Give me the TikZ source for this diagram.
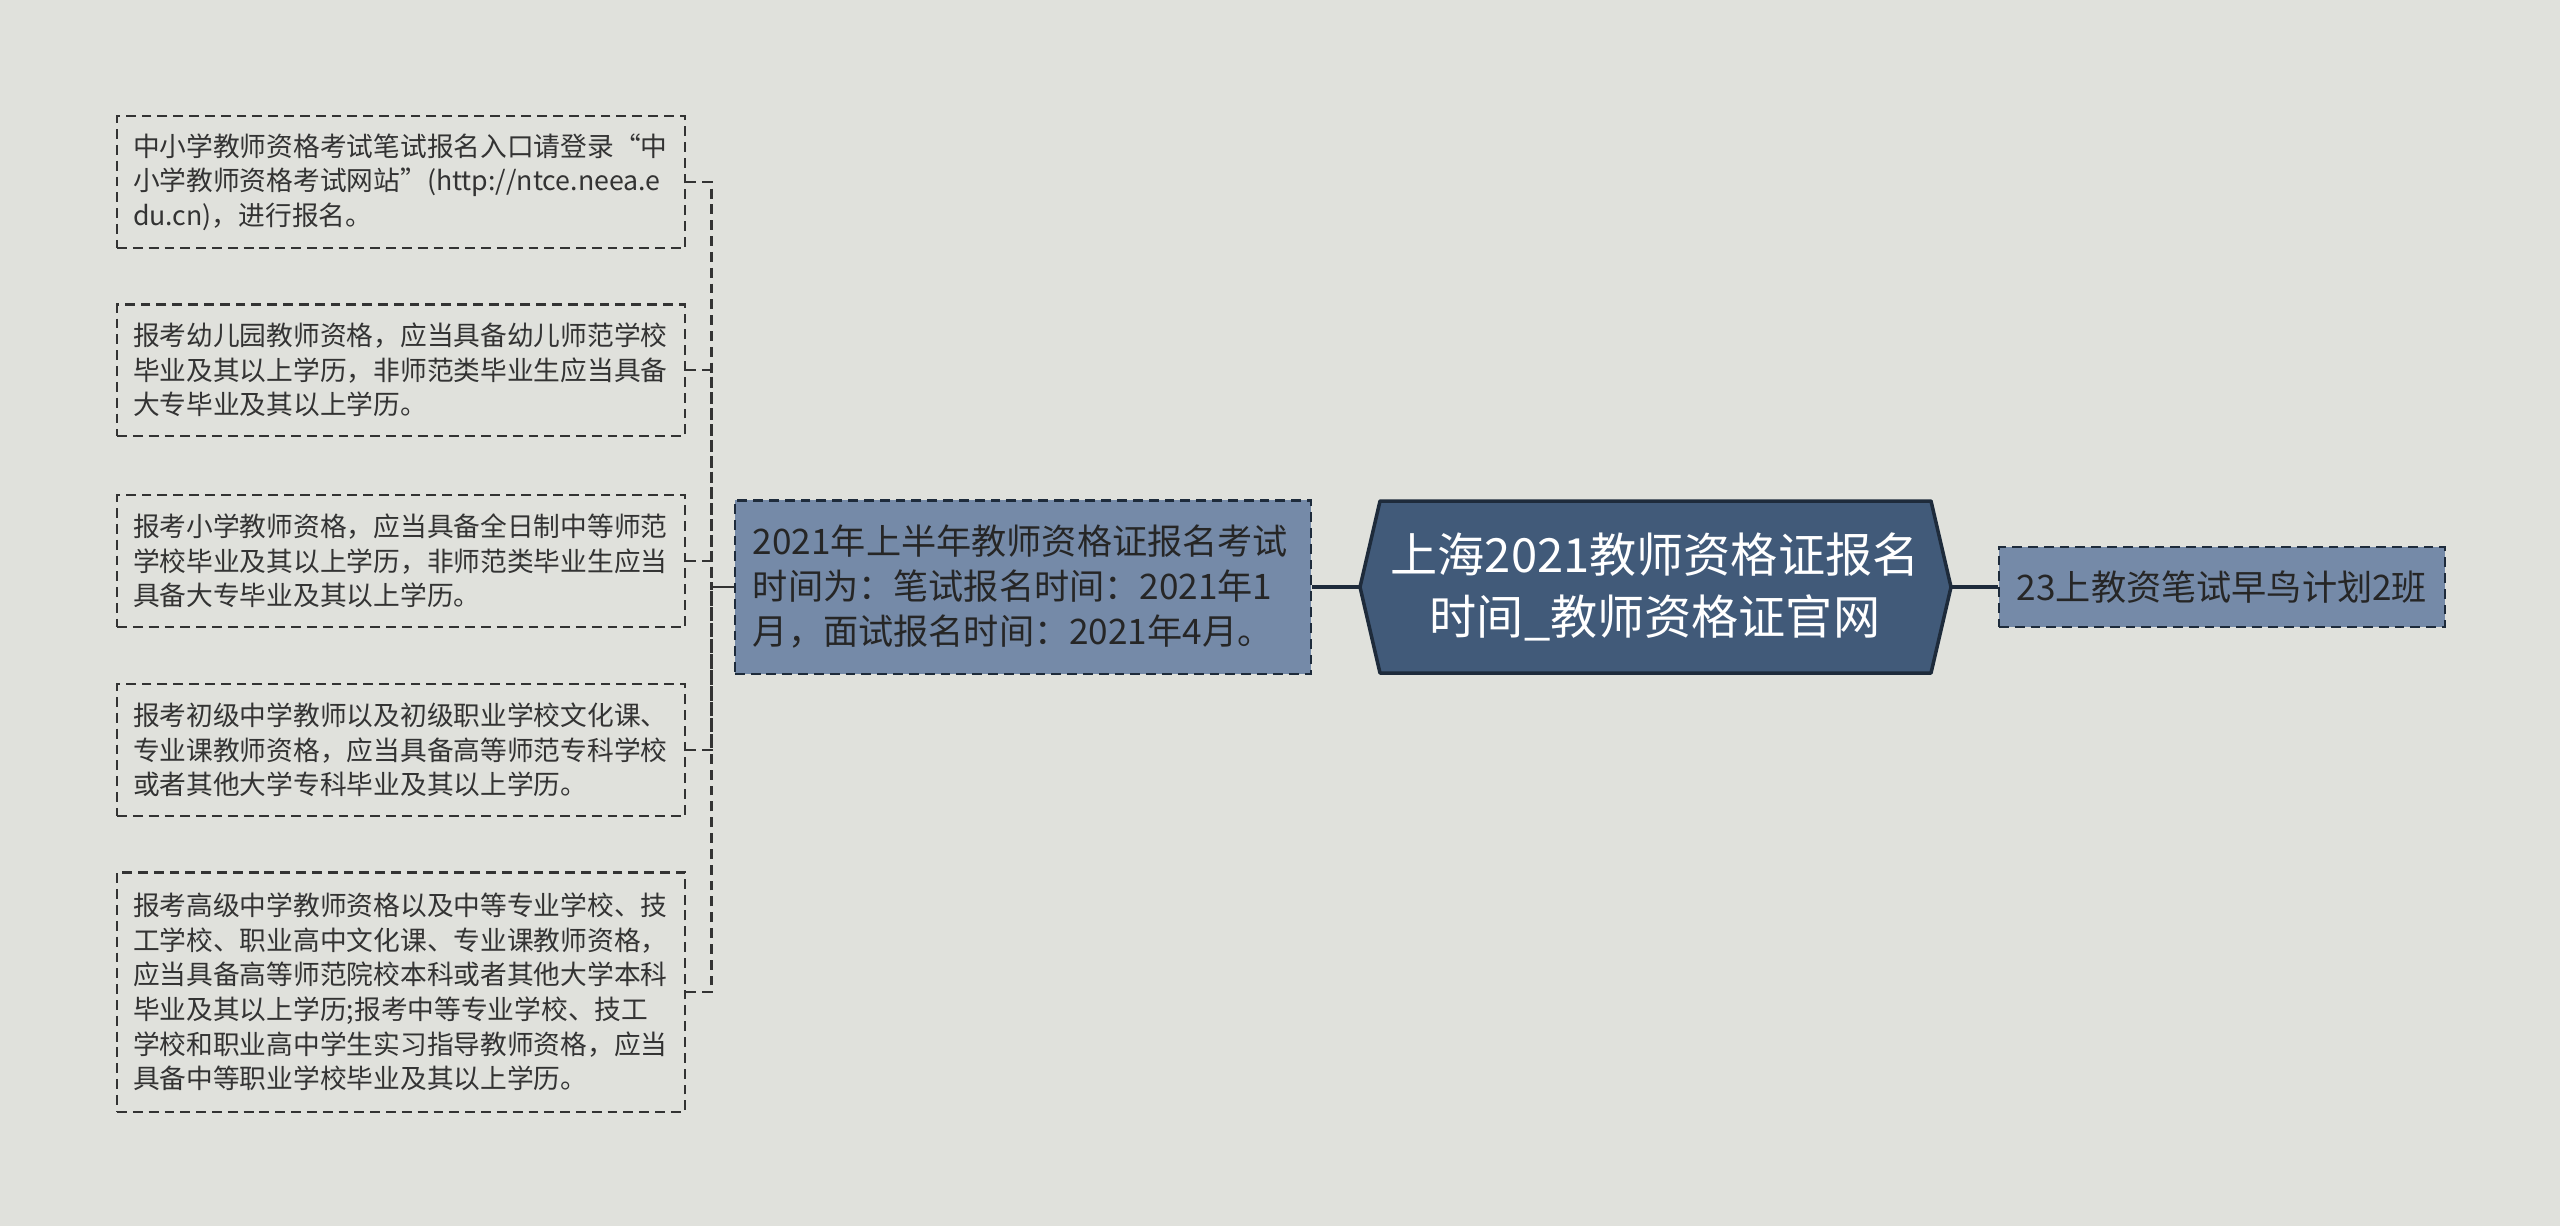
\documentclass[tikz,border=0pt]{standalone}
\usepackage{fontspec}
\setmainfont{Noto Sans CJK SC}
\definecolor{bgcol}{HTML}{E0E1DC}
\definecolor{slate}{HTML}{758AA8}
\definecolor{rootcol}{HTML}{415A79}
\definecolor{inkcol}{HTML}{1E2B3B}
\definecolor{txtcol}{HTML}{333333}

\begin{document}
\begin{tikzpicture}[x=0.01cm, y=-0.01cm,
  leaf/.style={draw=txtcol, line width=0.6pt, dash pattern=on 2.8pt off 1.7pt,
    anchor=west, text width=5.36cm, inner xsep=0.16cm, align=left,
    text=txtcol, font=\fontsize{7.6}{9.85}\selectfont},
  midbox/.style={draw=inkcol, fill=slate, line width=0.6pt, dash pattern=on 2.8pt off 1.7pt,
    text width=5.4cm, inner xsep=0.18cm, minimum height=1.73cm, align=left,
    text=black!85, font=\fontsize{10}{12.8}\selectfont},
  twig/.style={draw=txtcol, line width=0.6pt, dash pattern=on 2.8pt off 1.7pt},
  trunk/.style={draw=inkcol, line width=1.2pt}]

\fill[bgcol] (0,0) rectangle (2560,1226);
\useasboundingbox (0,0) rectangle (2560,1226);

% leaves
\node[leaf, minimum height=1.32cm] (leaf1) at (116,182)
  {中小学教师资格考试笔试报名入口请登录“中\\小学教师资格考试网站”(http://ntce.neea.e\\du.cn)，进行报名。};
\node[leaf, minimum height=1.31cm] (leaf2) at (116,370)
  {报考幼儿园教师资格，应当具备幼儿师范学校\\毕业及其以上学历，非师范类毕业生应当具备\\大专毕业及其以上学历。};
\node[leaf, minimum height=1.32cm] (leaf3) at (116,561)
  {报考小学教师资格，应当具备全日制中等师范\\学校毕业及其以上学历，非师范类毕业生应当\\具备大专毕业及其以上学历。};
\node[leaf, minimum height=1.32cm] (leaf4) at (116,750)
  {报考初级中学教师以及初级职业学校文化课、\\专业课教师资格，应当具备高等师范专科学校\\或者其他大学专科毕业及其以上学历。};
\node[leaf, minimum height=2.39cm] (leaf5) at (116,992)
  {报考高级中学教师资格以及中等专业学校、技\\工学校、职业高中文化课、专业课教师资格，\\应当具备高等师范院校本科或者其他大学本科\\毕业及其以上学历;报考中等专业学校、技工\\学校和职业高中学生实习指导教师资格，应当\\具备中等职业学校毕业及其以上学历。};

% middle
\node[midbox] (mid) at (1023,587)
  {2021年上半年教师资格证报名考试\\时间为：笔试报名时间：2021年1\\月，面试报名时间：2021年4月。};

% root
\filldraw[fill=rootcol, draw=inkcol, line width=1pt, line join=round]
  (1360,587) -- (1380,501) -- (1931,501) -- (1951,587) -- (1931,673) -- (1380,673) -- cycle;
\node[minimum width=5.91cm, minimum height=1.72cm, align=center, text=white,
  font=\fontsize{13.4}{17.6}\selectfont] (root) at (1655,587)
  {上海2021教师资格证报名\\时间\_教师资格证官网};

% right
\node[midbox, text width=, align=center, minimum width=4.44cm, minimum height=0.8cm] (side) at (2222,587)
  {23上教资笔试早鸟计划2班};

% connectors
\foreach \i in {1,...,5}
  \draw[twig] (leaf\i.east) -- ++(25,0) |- (mid.west);
\draw[trunk] (mid.east) -- (root.west);
\draw[trunk] (root.east) -- (side.west);

\end{tikzpicture}
\end{document}
